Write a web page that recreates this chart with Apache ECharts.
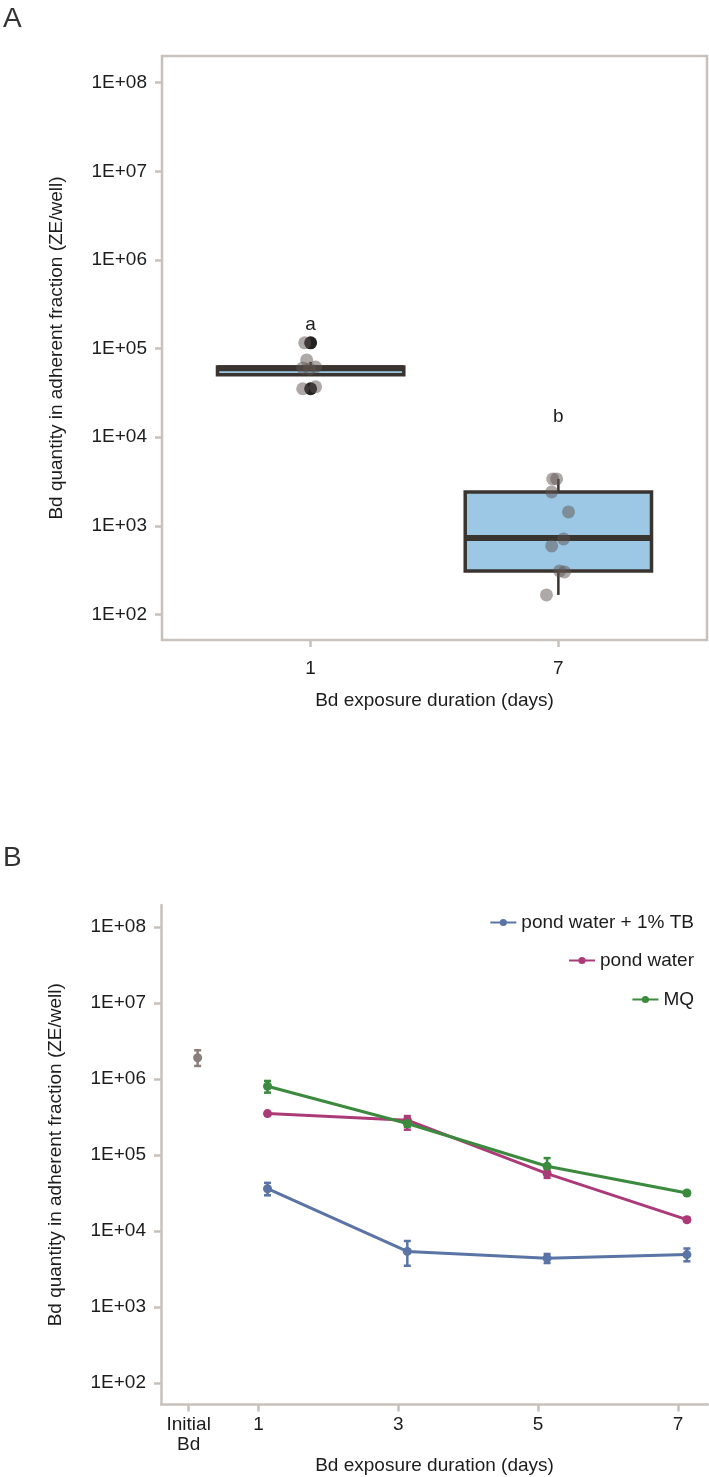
<!DOCTYPE html>
<html lang="en">
<head>
<meta charset="UTF-8" />
<title>Bd adherent fraction</title>
<script src="https://cdn.jsdelivr.net/npm/echarts@6.0.0/dist/echarts.min.js"></script>
<style>
  html, body { margin: 0; padding: 0; background: #fff; }
  #chart { width: 709px; height: 1477px; }
</style>
</head>
<body>
<div id="chart"></div>
<script>
// ---------- panel A data ----------
const groupLabels = ["1", "7"];
// min, Q1, median, Q3, max (ZE/well)
const boxStats = [
  [4.9e4, 5.05e4, 5.98e4, 6.2e4, 7.08e4],
  [166, 310, 730, 2415, 3380],
];
const pointsDay1 = [1.16e5, 7.45e4, 6.05e4, 6.2e4, 5.9e4, 3.52e4, 3.7e4];
const jitterDay1 = [-0.024, -0.016, -0.032, 0.02, -0.004, -0.032, 0.02];
const pointsDay7 = [3380, 3380, 2415, 1435, 711, 593, 310, 302, 166];
const jitterDay7 = [-0.023, -0.007, -0.027, 0.041, 0.021, -0.027, 0.005, 0.025, -0.048];
const outliersDay1 = [1.16e5, 3.52e4];
const letters = ["a", "b"];
const letterY = [1.85e5, 1.69e4];

// ---------- panel B data ----------
const days = [1, 3, 5, 7];
const seriesNames = ["pond water + 1% TB", "pond water", "MQ"];
const tbMean = [3.6e4, 5.4e3, 4.4e3, 4.9e3];
const tbLo = [2.95e4, 3.5e3, 3.8e3, 4.0e3];
const tbHi = [4.3e4, 7.4e3, 5.0e3, 5.9e3];
const pondMean = [3.5e5, 2.87e5, 5.7e4, 1.41e4];
const pondLo = [3.35e5, 2.15e5, 5.0e4, 1.33e4];
const pondHi = [3.65e5, 3.25e5, 6.5e4, 1.5e4];
const mqMean = [8.0e5, 2.59e5, 7.1e4, 3.16e4];
const mqLo = [6.6e5, 2.35e5, 5.9e4, 3.0e4];
const mqHi = [9.4e5, 2.85e5, 9.1e4, 3.3e4];
const initialMean = 1.9e6;
const initialLo = 1.48e6;
const initialHi = 2.38e6;
const xTicksB = [0, 1, 3, 5, 7];
const xLabelsB = ["Initial\nBd", "1", "3", "5", "7"];
const yTicks = [1e2, 1e3, 1e4, 1e5, 1e6, 1e7, 1e8];

const dodge = 0.128;
const lineColors = ["#5a74a5", "#ad3a78", "#3b8a3d"];
const initialColor = "#8a7f7b";
const axisGray = "#c9c1bc";
const textColor = "#1c1c1c";
const font = "Liberation Sans";

const chart = echarts.init(document.getElementById("chart"));

function sci(v) {
  const e = Math.round(Math.log10(v));
  return "1E+" + (e < 10 ? "0" + e : e);
}

function yAxisCommon(gridIndex, lo, hi) {
  return {
    type: "log",
    logBase: 10,
    gridIndex: gridIndex,
    min: Math.pow(10, lo),
    max: Math.pow(10, hi),
    name: "Bd quantity in adherent fraction (ZE/well)",
    nameLocation: "middle",
    nameGap: 96,
    nameTextStyle: { fontFamily: font, fontSize: 19, color: textColor },
    axisLine: { show: gridIndex === 1, onZero: false, lineStyle: { color: axisGray, width: 2.5 } },
    axisTick: { show: true, length: 7, customValues: yTicks, lineStyle: { color: axisGray, width: 2.5 } },
    minorTick: { show: false },
    splitLine: { show: false },
    axisLabel: {
      customValues: yTicks,
      formatter: sci,
      margin: 15,
      fontFamily: font,
      fontSize: 19,
      color: textColor,
    },
  };
}

// box plot drawn through the axes
function renderBox(params, api) {
  const x = api.value(0);
  const lo = api.coord([x, api.value(1)]);
  const q1 = api.coord([x, api.value(2)]);
  const md = api.coord([x, api.value(3)]);
  const q3 = api.coord([x, api.value(4)]);
  const hi = api.coord([x, api.value(5)]);
  const half = api.coord([x + 0.376, api.value(3)])[0] - md[0];
  const stroke = "#3a3431";
  return {
    type: "group",
    children: [
      { type: "line", shape: { x1: hi[0], y1: hi[1], x2: q3[0], y2: q3[1] }, style: { stroke: stroke, lineWidth: 2.5 } },
      { type: "line", shape: { x1: q1[0], y1: q1[1], x2: lo[0], y2: lo[1] }, style: { stroke: stroke, lineWidth: 2.5 } },
      {
        type: "rect",
        shape: { x: md[0] - half, y: q3[1], width: 2 * half, height: q1[1] - q3[1] },
        style: { fill: "#9dc8e5", stroke: stroke, lineWidth: 3.5 },
      },
      { type: "line", shape: { x1: md[0] - half, y1: md[1], x2: md[0] + half, y2: md[1] }, style: { stroke: stroke, lineWidth: 6 } },
    ],
  };
}

function renderErr(params, api) {
  const x = api.value(0);
  const bot = api.coord([x, api.value(1)]);
  const top = api.coord([x, api.value(2)]);
  const c = api.visual("color");
  const cap = 3.5;
  const st = { stroke: c, lineWidth: 2.5 };
  return {
    type: "group",
    children: [
      { type: "line", shape: { x1: top[0], y1: top[1], x2: bot[0], y2: bot[1] }, style: st },
      { type: "line", shape: { x1: top[0] - cap, y1: top[1], x2: top[0] + cap, y2: top[1] }, style: st },
      { type: "line", shape: { x1: bot[0] - cap, y1: bot[1], x2: bot[0] + cap, y2: bot[1] }, style: st },
    ],
  };
}

const means = [tbMean, pondMean, mqMean];
const los = [tbLo, pondLo, mqLo];
const his = [tbHi, pondHi, mqHi];

const seriesB = [];
seriesNames.forEach((name, k) => {
  seriesB.push({
    name: "err" + k,
    type: "custom",
    xAxisIndex: 1,
    yAxisIndex: 1,
    renderItem: renderErr,
    itemStyle: { color: lineColors[k] },
    encode: { x: 0, y: [1, 2] },
    data: days.map((d, i) => [d + dodge, los[k][i], his[k][i]]),
    z: 3,
  });
  seriesB.push({
    name: name,
    type: "line",
    xAxisIndex: 1,
    yAxisIndex: 1,
    symbol: "circle",
    symbolSize: 9,
    lineStyle: { width: 3, color: lineColors[k] },
    itemStyle: { color: lineColors[k] },
    data: days.map((d, i) => [d + dodge, means[k][i]]),
    z: 4 + k,
  });
});
seriesB.push({
  name: "initialErr",
  type: "custom",
  xAxisIndex: 1,
  yAxisIndex: 1,
  renderItem: renderErr,
  itemStyle: { color: initialColor },
  encode: { x: 0, y: [1, 2] },
  data: [[0 + dodge, initialLo, initialHi]],
});
seriesB.push({
  name: "Initial Bd",
  type: "scatter",
  xAxisIndex: 1,
  yAxisIndex: 1,
  symbolSize: 9,
  itemStyle: { color: initialColor, opacity: 1 },
  data: [[0 + dodge, initialMean]],
});

const legendTops = [908, 946, 985];

const option = {
  animation: false,
  backgroundColor: "#ffffff",
  textStyle: { fontFamily: font },
  graphic: [
    { type: "text", left: 3, top: 5, style: { text: "A", fontFamily: font, fontSize: 28, fill: "#333" } },
    { type: "text", left: 3, top: 844, style: { text: "B", fontFamily: font, fontSize: 28, fill: "#333" } },
  ],
  legend: seriesNames.map((n, i) => ({
    data: [n],
    right: 10,
    top: legendTops[i],
    itemWidth: 26,
    itemHeight: 9,
    textStyle: { fontFamily: font, fontSize: 19, color: textColor },
    selectedMode: false,
  })),
  grid: [
    {
      left: 162, top: 56, width: 545, height: 584,
      show: true, borderColor: axisGray, borderWidth: 2.5, backgroundColor: "transparent",
    },
    { left: 161, top: 905, width: 547, height: 499.5 },
  ],
  xAxis: [
    {
      type: "value",
      gridIndex: 0,
      min: 0.4,
      max: 2.6,
      name: "Bd exposure duration (days)",
      nameLocation: "middle",
      nameGap: 51,
      nameTextStyle: { fontFamily: font, fontSize: 19, color: textColor },
      axisLine: { show: false, onZero: false },
      axisTick: { show: true, length: 7, customValues: [1, 2], lineStyle: { color: axisGray, width: 2.5 } },
      splitLine: { show: false },
      axisLabel: {
        customValues: [1, 2],
        formatter: (v) => groupLabels[Math.round(v) - 1],
        margin: 19,
        fontFamily: font,
        fontSize: 19,
        color: textColor,
      },
    },
    {
      type: "value",
      gridIndex: 1,
      min: -0.396,
      max: 7.43,
      name: "Bd exposure duration (days)",
      nameLocation: "middle",
      nameGap: 52,
      nameTextStyle: { fontFamily: font, fontSize: 19, color: textColor },
      axisLine: { show: true, onZero: false, lineStyle: { color: axisGray, width: 2.5 } },
      axisTick: { show: true, length: 7, customValues: xTicksB, lineStyle: { color: axisGray, width: 2.5 } },
      splitLine: { show: false },
      axisLabel: {
        customValues: xTicksB,
        formatter: (v) => xLabelsB[xTicksB.indexOf(Math.round(v))],
        margin: 10,
        lineHeight: 20,
        fontFamily: font,
        fontSize: 19,
        color: textColor,
      },
    },
  ],
  yAxis: [yAxisCommon(0, 1.712, 8.301), yAxisCommon(1, 1.72, 8.286)],
  series: [
    {
      name: "box",
      type: "custom",
      xAxisIndex: 0,
      yAxisIndex: 0,
      renderItem: renderBox,
      encode: { x: 0, y: [1, 2, 3, 4, 5] },
      data: boxStats.map((s, i) => [i + 1].concat(s)),
      z: 2,
    },
    {
      name: "outliers",
      type: "scatter",
      xAxisIndex: 0,
      yAxisIndex: 0,
      symbolSize: 13,
      itemStyle: { color: "#222222", opacity: 1 },
      data: outliersDay1.map((v) => [1, v]),
      z: 3,
    },
    {
      name: "jitter",
      type: "scatter",
      xAxisIndex: 0,
      yAxisIndex: 0,
      symbolSize: 13,
      itemStyle: { color: "#5e5450", opacity: 0.5 },
      data: pointsDay1
        .map((v, i) => [1 + jitterDay1[i], v])
        .concat(pointsDay7.map((v, i) => [2 + jitterDay7[i], v])),
      z: 4,
    },
    {
      name: "letters",
      type: "scatter",
      xAxisIndex: 0,
      yAxisIndex: 0,
      symbolSize: 1,
      itemStyle: { color: "rgba(0,0,0,0)", opacity: 1 },
      label: {
        show: true,
        position: "inside",
        formatter: (p) => letters[p.dataIndex],
        fontFamily: font,
        fontSize: 19,
        color: textColor,
        opacity: 1,
      },
      data: letterY.map((v, i) => [i + 1, v]),
      z: 5,
    },
  ].concat(seriesB),
};

chart.setOption(option);
</script>
</body>
</html>
